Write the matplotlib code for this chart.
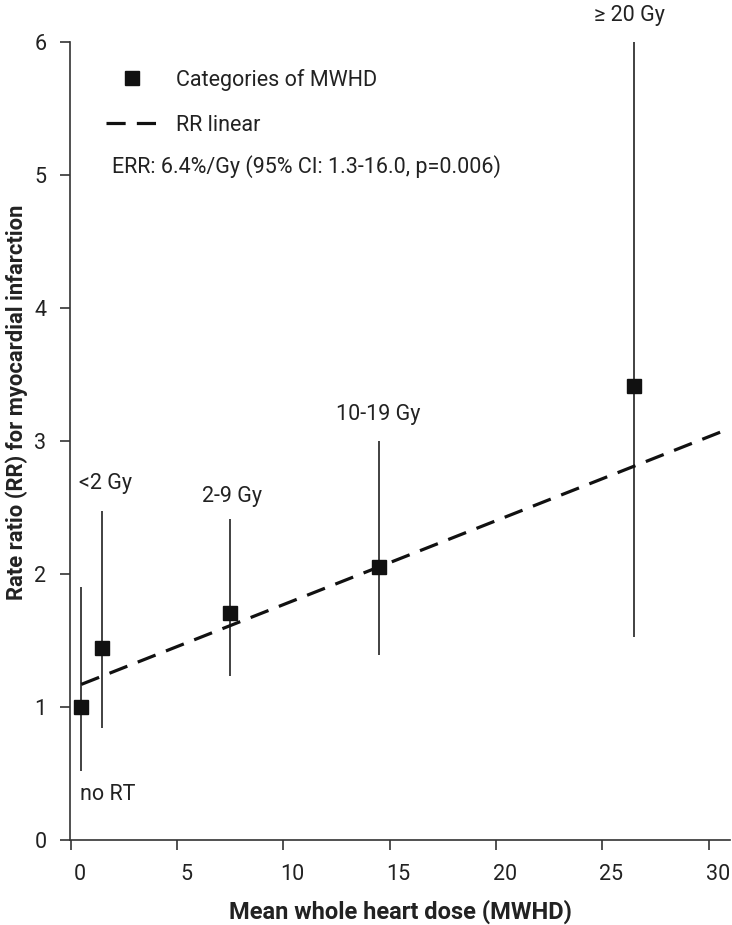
import matplotlib
matplotlib.use('Agg')
import matplotlib.pyplot as plt
import matplotlib.transforms as mtransforms
from matplotlib.lines import Line2D

plt.rcParams['font.family'] = ['Roboto', 'DejaVu Sans']

# categories of mean whole heart dose
labels = ['no RT', '<2 Gy', '2-9 Gy', '10-19 Gy', '\u2265 20 Gy']
dose = [0.5, 1.47, 7.49, 14.49, 26.48]
rr = [1.0, 1.44, 1.71, 2.05, 3.41]
ci_low = [0.52, 0.84, 1.23, 1.39, 1.53]
ci_high = [1.90, 2.47, 2.41, 3.00, 6.0]

# linear RR fit
fit_x = [0.5, 30.6]
fit_y = [1.17, 3.07]

# label anchor (left, centre) in data units
label_x = [0.44, 0.39, 6.18, 12.47, 24.6]
label_y = [0.34, 2.68, 2.58, 3.20, 6.2]

fs = 15.5
dark = '#222222'

fig = plt.figure(figsize=(7.32, 9.25), dpi=100)
ax = fig.add_axes([70 / 732, 85 / 925, 660 / 732, 798 / 925])

ax.vlines(dose, ci_low, ci_high, color='#333333', lw=1.3, zorder=2)
ax.plot(dose, rr, 's', color='#111111', ms=9.4, zorder=4)
ax.plot(fit_x, fit_y, color='#111111', lw=2.3, dashes=(6, 3.5), zorder=3)

for lab, lx, ly in zip(labels, label_x, label_y):
    ax.text(lx, ly, lab, fontsize=fs, ha='left', va='center', color=dark, clip_on=False)

ax.set_xlim(-0.03, 31.0)
ax.set_ylim(0, 6)
ax.set_xticks([0, 5, 10, 15, 20, 25, 30])
ax.set_yticks([0, 1, 2, 3, 4, 5, 6])

for s in ['top', 'right']:
    ax.spines[s].set_visible(False)
for s in ['left', 'bottom']:
    ax.spines[s].set_color('#333333')
    ax.spines[s].set_linewidth(1.2)

ax.tick_params(direction='out', length=7, width=1.2, color='#333333',
               labelsize=fs, labelcolor=dark, pad=10)

# x tick labels sit a little right of their ticks in the original
offset = mtransforms.ScaledTranslation(9 / 100, 0, fig.dpi_scale_trans)
for lab in ax.get_xticklabels():
    lab.set_transform(lab.get_transform() + offset)

fig.text(400 / 732, 1 - 912 / 925, 'Mean whole heart dose (MWHD)', fontsize=17,
         fontweight='bold', color=dark, ha='center', va='center')
fig.text(17 / 732, 1 - 402 / 925, 'Rate ratio (RR) for myocardial infarction',
         fontsize=15.8, fontweight='bold', color=dark, ha='center', va='center',
         rotation=90)

handles = [
    Line2D([], [], marker='s', ls='none', color='#111111', ms=9.4),
    Line2D([], [], color='#111111', lw=2.3, dashes=(6, 3.5)),
]
leg = ax.legend(handles, ['Categories of MWHD', 'RR linear'], loc='upper left',
                bbox_to_anchor=(106 / 732, 1 - 69 / 925), bbox_transform=fig.transFigure,
                frameon=False, fontsize=fs, handlelength=2.4, handletextpad=0.85,
                labelspacing=1.1, borderpad=0, borderaxespad=0)
for t in leg.get_texts():
    t.set_color(dark)

fig.text(112 / 732, 1 - 167 / 925, 'ERR: 6.4%/Gy (95% CI: 1.3-16.0, p=0.006)',
         fontsize=fs, ha='left', va='center', color=dark)

fig.savefig('out.png', dpi=100)
